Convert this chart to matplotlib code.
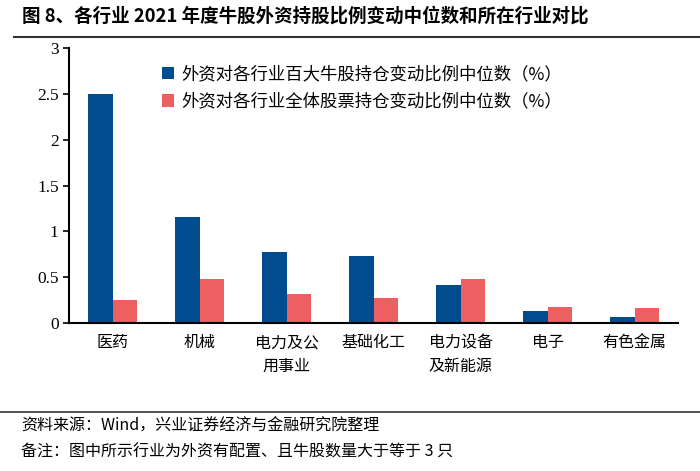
import numpy as np
import matplotlib.pyplot as plt

plt.rcParams['font.family'] = ['Noto Sans CJK SC', 'DejaVu Sans']

# data
industries = ["医药", "机械", "电力及公\n用事业", "基础化工", "电力设备\n及新能源", "电子", "有色金属"]
top100_median = [2.50, 1.16, 0.78, 0.73, 0.42, 0.13, 0.07]
all_median = [0.25, 0.48, 0.32, 0.27, 0.48, 0.18, 0.17]
label_top100 = "外资对各行业百大牛股持仓变动比例中位数（%）"
label_all = "外资对各行业全体股票持仓变动比例中位数（%）"

blue = "#004C8F"
red = "#EE5F62"

fig = plt.figure(figsize=(7, 4.71), dpi=100)
ax = fig.add_axes([0.0986, 0.314, 0.87, 0.584])

x = np.arange(len(industries))
w = 0.28
ax.bar(x - w / 2, top100_median, w, color=blue, label=label_top100)
ax.bar(x + w / 2, all_median, w, color=red, label=label_all)

ax.set_xlim(-0.5, len(industries) - 0.5)
ax.set_ylim(0, 3)
ax.set_yticks([0, 0.5, 1, 1.5, 2, 2.5, 3])
ax.set_yticklabels(["0", "0.5", "1", "1.5", "2", "2.5", "3"], family="Liberation Serif", fontsize=12.5)
ax.set_xticks(x)
ax.set_xticklabels(industries, fontsize=11.5, linespacing=1.5, va="top")
ax.tick_params(axis="x", length=0, pad=8)
ax.tick_params(axis="y", length=4, direction="out", width=1.2)
for s in ["top", "right"]:
    ax.spines[s].set_visible(False)
ax.spines["left"].set_linewidth(1.5)
ax.spines["bottom"].set_linewidth(1.5)

ax.legend(loc="upper left", bbox_to_anchor=(0.127, 0.995), frameon=False, fontsize=12.5,
          handlelength=0.7, handleheight=0.7, handletextpad=0.4, labelspacing=0.55)

# title and notes
fig.text(0.031, 0.965, "图 8、各行业 2021 年度牛股外资持股比例变动中位数和所在行业对比",
         fontsize=13.3, fontweight="bold", va="center")
fig.add_artist(plt.Line2D([0.02, 1.0], [0.922, 0.922], color="#333333", lw=1.5))
fig.add_artist(plt.Line2D([0.0, 1.0], [0.125, 0.125], color="#333333", lw=1.2))
fig.text(0.03, 0.095, "资料来源：Wind，兴业证券经济与金融研究院整理", fontsize=11.5, va="center")
fig.text(0.03, 0.04, "备注：图中所示行业为外资有配置、且牛股数量大于等于 3 只", fontsize=11.5, va="center")

fig.savefig("out.png", dpi=100)
